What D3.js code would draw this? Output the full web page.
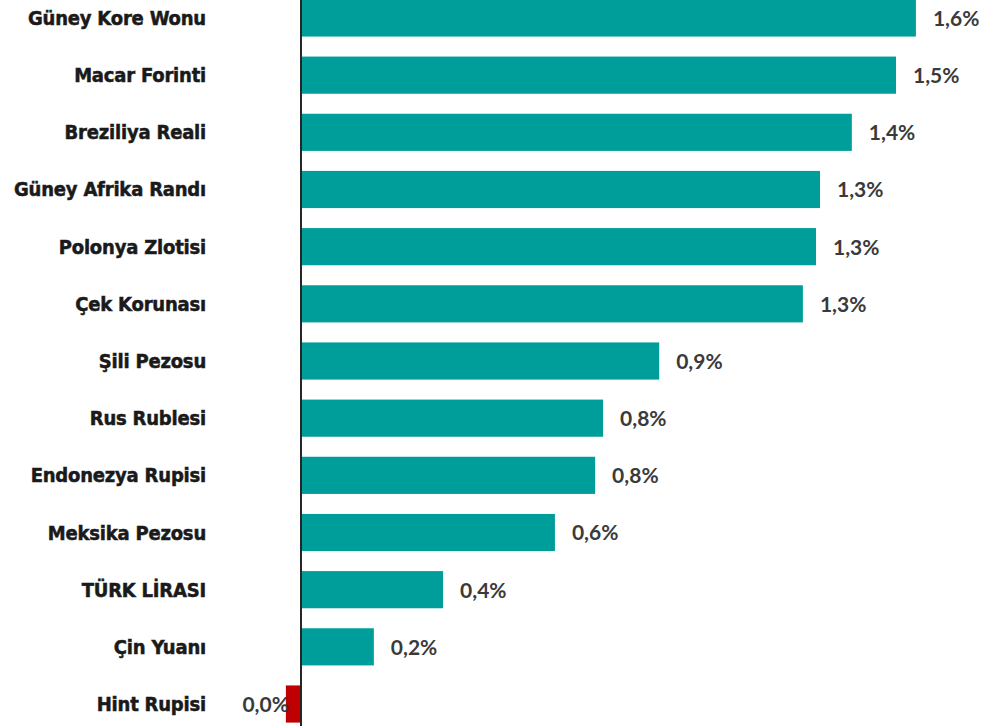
<!DOCTYPE html>
<html>
<head>
<meta charset="utf-8">
<script src="https://cdn.jsdelivr.net/npm/d3@7"></script>
<style>
  body { margin: 0; background: #fff; }
  #chart svg { display: block; }
</style>
</head>
<body>
<div id="chart"></div>
<script>
var w = 993;
var h = 726;

// currencies, top to bottom
var currencies = ["Güney Kore Wonu", "Macar Forinti", "Breziliya Reali", "Güney Afrika Randı",
                  "Polonya Zlotisi", "Çek Korunası", "Şili Pezosu", "Rus Rublesi",
                  "Endonezya Rupisi", "Meksika Pezosu", "TÜRK LİRASI", "Çin Yuanı", "Hint Rupisi"];
var changes = [1.545, 1.495, 1.384, 1.304, 1.294, 1.261, 0.90, 0.759, 0.739, 0.638, 0.357, 0.183, -0.038];
var valueLabels = ["1,6%", "1,5%", "1,4%", "1,3%", "1,3%", "1,3%", "0,9%", "0,8%", "0,8%", "0,6%", "0,4%", "0,2%", "0,0%"];

var x = d3.scaleLinear()
          .domain([-0.75, 1.7])
          .range([2.5, 977.6]);

var y = d3.scaleBand()
          .domain(currencies)
          .range([-10.6, 732.6])
          .paddingInner(0.35)
          .paddingOuter(0.175);

var svg = d3.select("#chart")
            .append("svg")
            .attr("width", w)
            .attr("height", h);

svg.selectAll("rect.bar")
    .data(changes)
    .enter()
    .append("rect")
    .attr("class", "bar")
    .attr("x", function(d) { return x(Math.min(0, d)); })
    .attr("y", function(d, i) { return y(currencies[i]); })
    .attr("width", function(d) { return Math.abs(x(d) - x(0)); })
    .attr("height", y.bandwidth())
    .attr("fill", function(d) { return d < 0 ? "#C00000" : "#009E9A"; });

// zero line
svg.append("line")
    .attr("x1", x(0)).attr("x2", x(0))
    .attr("y1", 0).attr("y2", h)
    .attr("stroke", "#262626")
    .attr("stroke-width", 2);

// category labels
svg.selectAll("text.cat")
    .data(currencies)
    .enter()
    .append("text")
    .attr("class", "cat")
    .attr("x", 206)
    .attr("y", function(d) { return y(d) + y.bandwidth() / 2; })
    .attr("dy", "0.35em")
    .attr("text-anchor", "end")
    .style("font-family", "'DejaVu Sans Condensed', 'DejaVu Sans', sans-serif")
    .style("font-stretch", "condensed")
    .style("font-weight", "bold")
    .style("font-size", "20px")
    .style("letter-spacing", "-0.2px")
    .style("fill", "#1a1a1a")
    .style("stroke", "#1a1a1a")
    .style("stroke-width", "0.5px")
    .text(function(d) { return d; });

// value labels
svg.selectAll("text.val")
    .data(changes)
    .enter()
    .append("text")
    .attr("class", "val")
    .attr("x", function(d) { return d < 0 ? x(d) + 3 : x(d) + 17; })
    .attr("y", function(d, i) { return y(currencies[i]) + y.bandwidth() / 2; })
    .attr("dy", "0.38em")
    .attr("text-anchor", function(d) { return d < 0 ? "end" : "start"; })
    .style("font-family", "Lato, 'Open Sans', sans-serif")
    .style("font-weight", "bold")
    .style("font-size", "21px")
    .style("fill", "#3a3a3a")
    .text(function(d, i) { return valueLabels[i]; });
</script>
</body>
</html>
